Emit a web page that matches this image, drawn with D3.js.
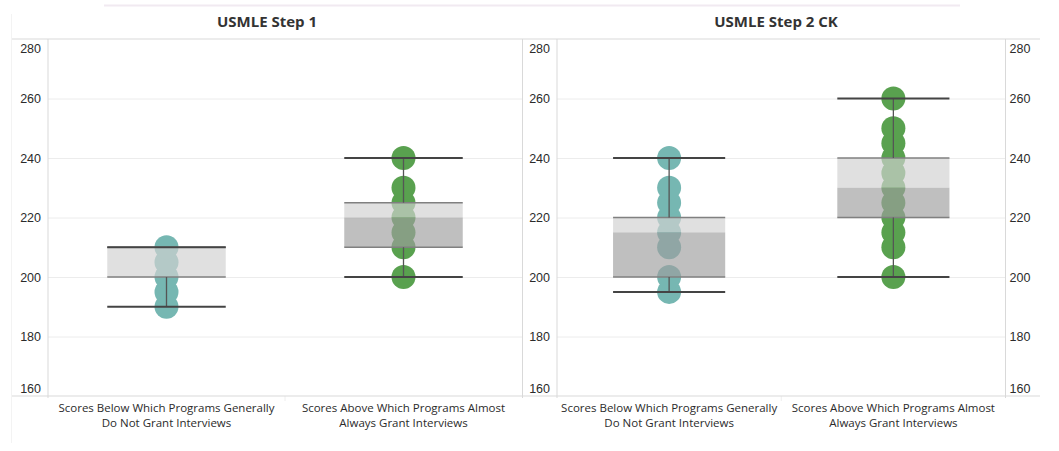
<!DOCTYPE html>
<html>
<head>
<meta charset="utf-8">
<script src="https://cdn.jsdelivr.net/npm/d3@7"></script>
<style>
  html, body { margin: 0; padding: 0; background: #fff; }
  svg { display: block; }
</style>
</head>
<body>
<div id="chart"></div>
<script>
// ---------------- DATA ----------------
const panelTitles = ["USMLE Step 1", "USMLE Step 2 CK"];
const categories = [
  "Scores Below Which Programs Generally Do Not Grant Interviews",
  "Scores Above Which Programs Almost Always Grant Interviews"
];
const categoryLines = [
  ["Scores Below Which Programs Generally", "Do Not Grant Interviews"],
  ["Scores Above Which Programs Almost", "Always Grant Interviews"]
];
const yTicks = [160, 180, 200, 220, 240, 260, 280];

// individual responses (dots)
const step1Below = [190, 195, 200, 205, 210];
const step1Above = [200, 210, 215, 220, 225, 230, 240];
const step2Below = [195, 200, 210, 215, 220, 225, 230, 240];
const step2Above = [200, 210, 215, 220, 225, 230, 235, 240, 245, 250, 260];

// box plot stats: [whiskerLow, q1, median, q3, whiskerHigh]
const step1BelowBox = [190, 200, 200, 210, 210];
const step1AboveBox = [200, 210, 220, 225, 240];
const step2BelowBox = [195, 200, 215, 220, 240];
const step2AboveBox = [200, 220, 230, 240, 260];

const seriesColors = ["#76b7b2", "#59a14f"];

// ---------------- LAYOUT ----------------
const W = 1059, H = 451;
const TOP = 39, BOTTOM = 396;
const panels = [
  { title: panelTitles[0], x0: 48, x1: 522, titleX: 267, right: false,
    dots: [step1Below, step1Above], boxes: [step1BelowBox, step1AboveBox] },
  { title: panelTitles[1], x0: 557, x1: 1005.5, titleX: 776, right: true,
    dots: [step2Below, step2Above], boxes: [step2BelowBox, step2AboveBox] }
];

const y = d3.scaleLinear().domain([160, 280]).range([BOTTOM, TOP]);

const svg = d3.select("#chart").append("svg")
  .attr("width", W).attr("height", H);

const GRID = "#ececec", BORDER = "#d9d9d9";
const tickFont = "'Liberation Sans', Arial, sans-serif";
const labelFont = "'Open Sans', 'Noto Sans', sans-serif";

// outer faint frame pieces
svg.append("line").attr("x1", 104).attr("x2", 960).attr("y1", 5.5).attr("y2", 5.5)
  .attr("stroke", "#f1eaf1").attr("stroke-width", 2);
svg.append("line").attr("x1", 11.5).attr("x2", 11.5).attr("y1", 14).attr("y2", 443)
  .attr("stroke", "#f3f3f3").attr("stroke-width", 1);

panels.forEach((p, pi) => {
  const g = svg.append("g");
  const x = d3.scaleBand().domain(categories).range([p.x0, p.x1]);
  const bw = x.bandwidth() * 0.5;

  // gridlines
  const grid = d3.axisLeft(y).tickValues(yTicks.filter(t => t > 160 && t < 280))
    .tickSize(-(p.x1 - p.x0)).tickFormat("");
  g.append("g").attr("transform", `translate(${p.x0},0)`).call(grid)
    .call(s => s.select(".domain").remove())
    .call(s => s.selectAll("line").attr("stroke", GRID).attr("stroke-width", 1));

  // title
  g.append("text").attr("x", p.titleX).attr("y", 27)
    .attr("text-anchor", "middle")
    .attr("font-family", labelFont).attr("font-weight", 700)
    .attr("font-size", 15).attr("fill", "#333")
    .text(p.title);

  // y axis labels
  const fixEnds = s => {
    s.select(".domain").remove();
    s.selectAll(".tick text").attr("fill", "#2b2b2b")
      .attr("font-family", tickFont).attr("font-size", 12.5)
      .attr("dy", d => d === 280 ? "1.05em" : d === 160 ? "-0.3em" : "0.35em");
  };
  g.append("g").attr("transform", `translate(${p.x0},0)`)
    .call(d3.axisLeft(y).tickValues(yTicks).tickSize(0).tickPadding(7).tickFormat(d3.format("d")))
    .call(fixEnds);
  if (p.right) {
    g.append("g").attr("transform", `translate(${p.x1},0)`)
      .call(d3.axisRight(y).tickValues(yTicks).tickSize(0).tickPadding(4).tickFormat(d3.format("d")))
      .call(fixEnds);
  }

  // dots
  categories.forEach((c, ci) => {
    const cx = x(c) + x.bandwidth() / 2;
    g.append("g").selectAll("circle").data(p.dots[ci]).join("circle")
      .attr("cx", cx).attr("cy", d => y(d)).attr("r", 12)
      .attr("fill", seriesColors[ci]);
  });

  // boxes
  categories.forEach((c, ci) => {
    const cx = x(c) + x.bandwidth() / 2;
    const [lo, q1, med, q3, hi] = p.boxes[ci];
    const bg = g.append("g");
    // upper box (median to q3)
    bg.append("rect").attr("x", cx - bw / 2).attr("width", bw)
      .attr("y", y(q3)).attr("height", y(med) - y(q3))
      .attr("fill", "#d2d2d2").attr("fill-opacity", 0.68);
    // lower box (q1 to median)
    bg.append("rect").attr("x", cx - bw / 2).attr("width", bw)
      .attr("y", y(med)).attr("height", y(q1) - y(med))
      .attr("fill", "#9e9e9e").attr("fill-opacity", 0.66);
    // box edges
    [q1, q3].forEach(v => {
      bg.append("line").attr("x1", cx - bw / 2).attr("x2", cx + bw / 2)
        .attr("y1", y(v)).attr("y2", y(v))
        .attr("stroke", "#808080").attr("stroke-width", 1.5);
    });
    // whisker stems
    if (hi > q3) bg.append("line").attr("x1", cx).attr("x2", cx)
      .attr("y1", y(hi)).attr("y2", y(q3)).attr("stroke", "#555").attr("stroke-width", 1.3);
    if (lo < q1) bg.append("line").attr("x1", cx).attr("x2", cx)
      .attr("y1", y(q1)).attr("y2", y(lo)).attr("stroke", "#555").attr("stroke-width", 1.3);
    // caps
    [lo, hi].forEach(v => {
      bg.append("line").attr("x1", cx - bw / 2).attr("x2", cx + bw / 2)
        .attr("y1", y(v)).attr("y2", y(v))
        .attr("stroke", "#444").attr("stroke-width", 2);
    });
  });

  // category labels
  categories.forEach((c, ci) => {
    const cx = x(c) + x.bandwidth() / 2;
    const t = g.append("text").attr("text-anchor", "middle")
      .attr("font-family", labelFont).attr("font-size", 11.5).attr("fill", "#2b2b2b");
    categoryLines[ci].forEach((ln, li) => {
      t.append("tspan").attr("x", cx).attr("y", 412 + li * 15).text(ln);
    });
  });
  // divider between category labels
  g.append("line").attr("x1", x(categories[1])).attr("x2", x(categories[1]))
    .attr("y1", BOTTOM).attr("y2", BOTTOM + 5).attr("stroke", "#eee");
});

// frame lines
const frame = svg.append("g").attr("stroke", BORDER).attr("stroke-width", 1).attr("fill", "none");
frame.append("line").attr("x1", 12).attr("x2", 1040).attr("y1", TOP).attr("y2", TOP);
frame.append("line").attr("x1", 12).attr("x2", 1040).attr("y1", BOTTOM).attr("y2", BOTTOM);
[48, 522.5, 557, 1005.5].forEach(xv => {
  frame.append("line").attr("x1", xv).attr("x2", xv).attr("y1", TOP).attr("y2", BOTTOM + 2);
});
</script>
</body>
</html>
